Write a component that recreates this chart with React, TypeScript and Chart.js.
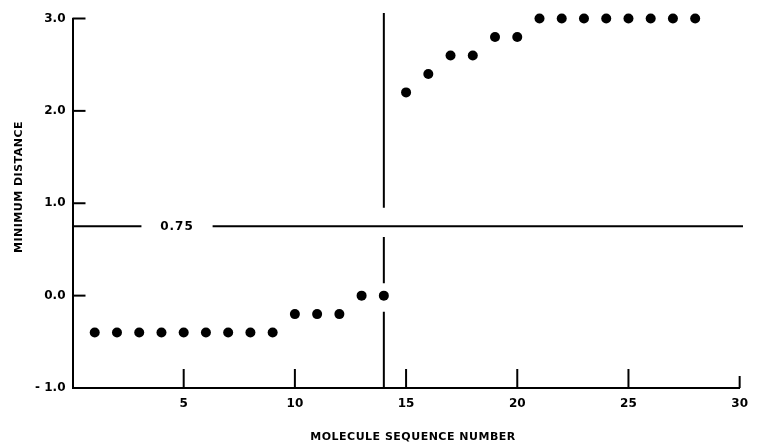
import React, { useEffect, useRef } from "react";
import { Chart, registerables } from "chart.js";

Chart.register(...registerables);

// ---- data ----
const sequenceNumbers = [1, 2, 3, 4, 5, 6, 7, 8, 9, 10, 11, 12, 13, 14, 15, 16, 17, 18, 19, 20, 21, 22, 23, 24, 25, 26, 27, 28];
const minimumDistance = [-0.4, -0.4, -0.4, -0.4, -0.4, -0.4, -0.4, -0.4, -0.4, -0.2, -0.2, -0.2, 0.0, 0.0, 2.2, 2.4, 2.6, 2.6, 2.8, 2.8, 3.0, 3.0, 3.0, 3.0, 3.0, 3.0, 3.0, 3.0];

const xTickValues = [5, 10, 15, 20, 25, 30];
const xTickLabels = ["5", "10", "15", "20", "25", "30"];
const yTickValues = [-1, 0, 1, 2, 3];
const yTickLabels = ["- 1.0", "0.0", "1.0", "2.0", "3.0"];

const threshold = 0.75;
const thresholdLabel = "0.75";
const thresholdLabelAt = 4.7;
const thresholdSegments = [
  [0, 3.1],
  [6.3, 30.15],
];

const cutoffSequence = 14;
const cutoffSegments = [
  [3.06, 0.95],
  [0.635, 0.135],
  [-0.175, -1],
];

const xTitle = "MOLECULE SEQUENCE NUMBER";
const yTitle = "MINIMUM DISTANCE";

const FONT_FAMILY = "'DejaVu Sans', sans-serif";

const annotationPlugin = {
  id: "annotations",
  afterDatasetsDraw(chart: any) {
    const { ctx, chartArea, scales } = chart;
    const x = scales.x;
    const y = scales.y;
    ctx.save();
    ctx.strokeStyle = "#000";
    ctx.fillStyle = "#000";
    ctx.lineWidth = 2;
    // inward tick marks on x axis
    xTickValues.forEach((v) => {
      const px = x.getPixelForValue(v);
      const len = v === 30 ? 12 : 19;
      ctx.beginPath();
      ctx.moveTo(px, chartArea.bottom);
      ctx.lineTo(px, chartArea.bottom - len);
      ctx.stroke();
    });
    // inward tick marks on y axis
    yTickValues
      .filter((v) => v > -1)
      .forEach((v) => {
        const py = y.getPixelForValue(v);
        ctx.beginPath();
        ctx.moveTo(chartArea.left, py);
        ctx.lineTo(chartArea.left + 13, py);
        ctx.stroke();
      });
    // threshold label
    ctx.font = `bold 12px ${FONT_FAMILY}`;
    (ctx as any).letterSpacing = "1px";
    ctx.textAlign = "center";
    ctx.textBaseline = "middle";
    ctx.fillText(thresholdLabel, x.getPixelForValue(thresholdLabelAt), y.getPixelForValue(threshold) + 1);
    // axis titles
    ctx.font = `bold 11px ${FONT_FAMILY}`;
    (ctx as any).letterSpacing = "0.5px";
    ctx.fillText(xTitle, 413, 437);
    ctx.translate(19, 187);
    ctx.rotate(-Math.PI / 2);
    ctx.fillText(yTitle, 0, 0);
    ctx.restore();
  },
};

export default function App() {
  const canvasRef = useRef<HTMLCanvasElement | null>(null);

  useEffect(() => {
    const canvas = canvasRef.current;
    if (!canvas) return;

    const lineStyle = {
      type: "line" as const,
      borderColor: "#000",
      borderWidth: 2,
      pointRadius: 0,
      showLine: true,
      clip: false as any,
      tension: 0,
    };

    const datasets: any[] = [
      {
        type: "scatter",
        label: "minimum distance",
        data: sequenceNumbers.map((s, i) => ({ x: s, y: minimumDistance[i] })),
        backgroundColor: "#000",
        borderColor: "#000",
        borderWidth: 0,
        pointRadius: 5,
        pointHoverRadius: 5,
        clip: false,
      },
      ...thresholdSegments.map((seg) => ({
        ...lineStyle,
        label: "threshold",
        data: seg.map((v) => ({ x: v, y: threshold })),
      })),
      ...cutoffSegments.map((seg) => ({
        ...lineStyle,
        label: "cutoff",
        data: seg.map((v) => ({ x: cutoffSequence, y: v })),
      })),
    ];

    const tickFont = { family: FONT_FAMILY, size: 12, weight: "bold" as const };

    const chart = new Chart(canvas, {
      type: "scatter",
      data: { datasets },
      options: {
        animation: false,
        responsive: false,
        devicePixelRatio: 1,
        layout: { padding: { top: 18.5, right: 10.5, left: 0, bottom: 0 } },
        plugins: {
          legend: { display: false },
          tooltip: { enabled: false },
        },
        scales: {
          x: {
            type: "linear",
            position: "bottom",
            min: 0,
            max: 30,
            afterFit: (s: any) => {
              s.height = 57;
            },
            afterBuildTicks: (s: any) => {
              s.ticks = xTickValues.map((v) => ({ value: v }));
            },
            ticks: {
              color: "#000",
              font: tickFont,
              padding: 9,
              maxRotation: 0,
              autoSkip: false,
              callback: (v: any) => xTickLabels[xTickValues.indexOf(Number(v))] ?? "",
            },
            grid: { display: false, drawTicks: false },
            border: { display: true, color: "#000", width: 2 },
          },
          y: {
            type: "linear",
            position: "left",
            min: -1,
            max: 3,
            afterFit: (s: any) => {
              s.width = 72.5;
            },
            afterBuildTicks: (s: any) => {
              s.ticks = yTickValues.map((v) => ({ value: v }));
            },
            ticks: {
              color: "#000",
              font: tickFont,
              padding: 7,
              autoSkip: false,
              callback: (v: any) => yTickLabels[yTickValues.indexOf(Number(v))] ?? "",
            },
            grid: { display: false, drawTicks: false },
            border: { display: true, color: "#000", width: 2 },
          },
        },
      },
      plugins: [annotationPlugin],
    });

    return () => chart.destroy();
  }, []);

  return (
    <div style={{ position: "fixed", left: 0, top: 0, width: 757, height: 445, background: "#fff" }}>
      <canvas ref={canvasRef} width={757} height={445} style={{ display: "block", width: 757, height: 445 }} />
    </div>
  );
}
